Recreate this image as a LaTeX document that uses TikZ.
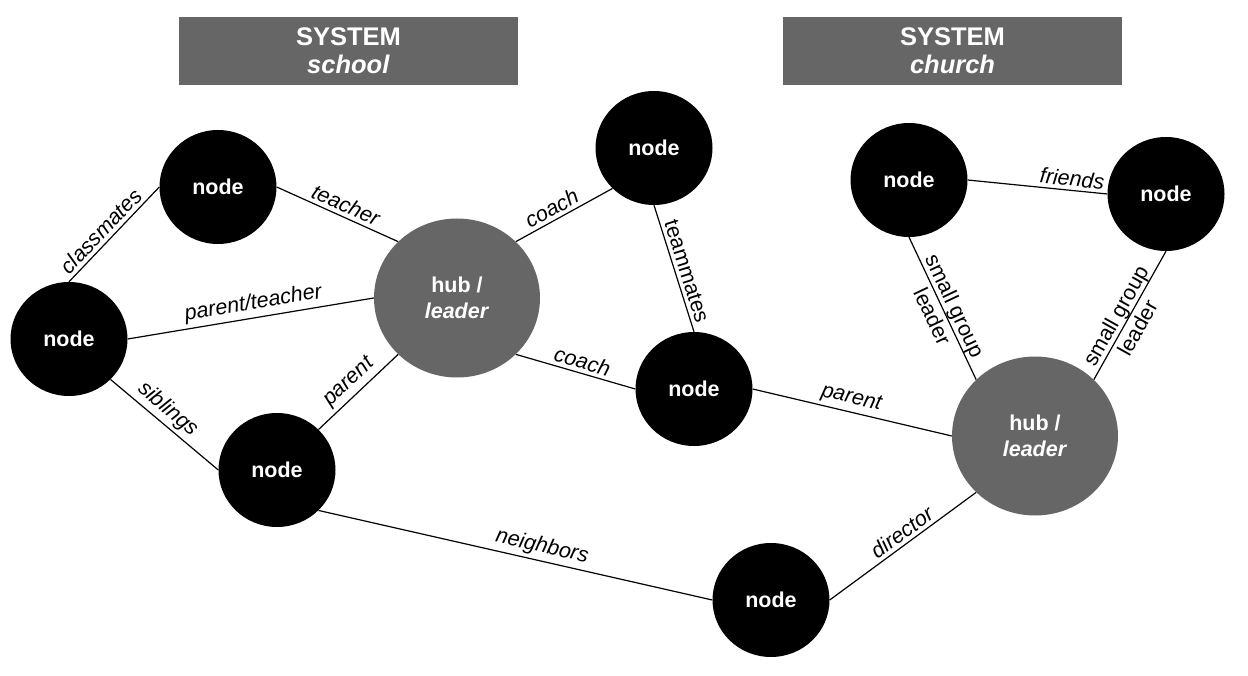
\documentclass[tikz,border=0pt]{standalone}
\usepackage{fontspec}
\setmainfont{Liberation Sans}
\usepackage{tikz}
\usetikzlibrary{shapes.geometric}
\definecolor{sysgray}{RGB}{102,102,102}

\begin{document}
\begin{tikzpicture}[
  x=1pt, y=-1pt,
  member/.style={ellipse, fill=black, text=white, inner sep=0pt,
                 minimum width=117pt, minimum height=114pt,
                 font=\fontsize{21.5}{24}\selectfont\bfseries},
  hub/.style={ellipse, fill=sysgray, text=white, inner sep=0pt, align=center,
              minimum width=166pt, minimum height=159pt,
              font=\fontsize{21.5}{26}\selectfont\bfseries},
  sysbox/.style={fill=sysgray, text=white, align=center, inner sep=0pt,
                 minimum width=339pt, minimum height=68pt,
                 font=\fontsize{25.5}{28}\selectfont\bfseries},
  link/.style={line width=1.2pt, black},
  lab/.style={sloped, above, inner sep=3.5pt, font=\fontsize{21.5}{23}\selectfont\itshape},
  labup/.style={sloped, inner sep=0pt, align=center, font=\fontsize{21.5}{25}\selectfont}
]
\useasboundingbox (0,0) rectangle (1248,676);

% system headers
\node[sysbox] (school) at (348.5,51) {SYSTEM\\ \textit{school}};
\node[sysbox] (church) at (952.5,51) {SYSTEM\\ \textit{church}};

% school side
\node[member] (sn1)   at (218,187) {node};
\node[member] (sn2)   at (69,339)  {node};
\node[member] (sn3)   at (277,470) {node};
\node[hub]    (shub)  at (457,298) {hub /\\ \textit{leader}};
\node[member] (team1) at (654,148) {node};
\node[member] (team2) at (694,389) {node};
\node[member] (nbr)   at (771,600) {node};

% church side
\node[member] (ch1)  at (909,180)  {node};
\node[member] (ch2)  at (1166,194) {node};
\node[hub]    (chub) at (1035,436) {hub /\\ \textit{leader}};

\draw[link] (sn2.north) -- node[lab, pos=.45] {classmates} (sn1.west);
\draw[link] (sn1.east) -- node[lab, pos=.53] {teacher} (shub.north west);
\draw[link] (sn2.east) -- node[lab, pos=.52] {parent/teacher} (shub.west);
\draw[link] (sn2.south east) -- node[lab, pos=.45] {siblings} (sn3.west);
\draw[link] (sn3.north east) -- node[lab, pos=.5] {parent} (shub.south west);
\draw[link] (shub.north east) -- node[lab, pos=.43] {coach} (team1.south west);
\draw[link] (team1.south) -- node[lab, pos=.55, font=\fontsize{21.5}{23}\selectfont] {teammates} (team2.north);
\draw[link] (shub.south east) -- node[lab, pos=.53] {coach} (team2.west);
\draw[link] (team2.east) -- node[lab, pos=.48] {parent} (chub.west);
\draw[link] (sn3.south east) -- node[lab, pos=.56] {neighbors} (nbr.west);
\draw[link] (nbr.east) -- node[lab, pos=.54] {director} (chub.south west);
\draw[link] (ch1.east) -- node[lab, pos=.74] {friends} (ch2.west);
\draw[link] (ch1.south) -- node[labup, pos=.52] {small group\\ leader} (chub.north west);
\draw[link] (ch2.south) -- node[labup, pos=.55] {small group\\ leader} (chub.north east);
\end{tikzpicture}
\end{document}
